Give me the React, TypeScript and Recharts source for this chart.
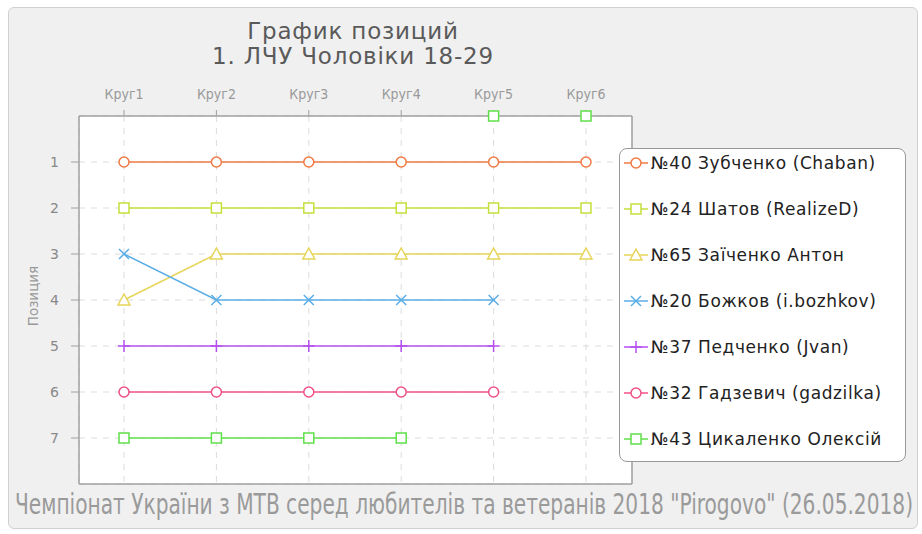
import React from 'react';
import { LineChart, Line, XAxis, YAxis, CartesianGrid } from 'recharts';

const rounds = ['Круг1', 'Круг2', 'Круг3', 'Круг4', 'Круг5', 'Круг6'];
const p40 = [1, 1, 1, 1, 1, 1];
const p24 = [2, 2, 2, 2, 2, 2];
const p65 = [4, 3, 3, 3, 3, 3];
const p20 = [3, 4, 4, 4, 4, null];
const p37 = [5, 5, 5, 5, 5, null];
const p32 = [6, 6, 6, 6, 6, null];
const p43 = [7, 7, 7, 7, null, null];
const p43top = [null, null, null, null, 0, 0];
const positionTicks = [1, 2, 3, 4, 5, 6, 7];

const series = [
  { key: 'p40', name: '№40 Зубченко (Chaban)', color: '#f07a45', shape: 'circle', values: p40 },
  { key: 'p24', name: '№24 Шатов (RealizeD)', color: '#c3e03d', shape: 'square', values: p24 },
  { key: 'p65', name: '№65 Заїченко Антон', color: '#e6d55a', shape: 'triangle', values: p65 },
  { key: 'p20', name: '№20 Божков (i.bozhkov)', color: '#5aaee6', shape: 'cross', values: p20 },
  { key: 'p37', name: '№37 Педченко (Jvan)', color: '#b44ff0', shape: 'plus', values: p37 },
  { key: 'p32', name: '№32 Гадзевич (gadzilka)', color: '#f0508a', shape: 'circle', values: p32 },
  { key: 'p43', name: '№43 Цикаленко Олексій', color: '#5fe04a', shape: 'square', values: p43 },
];

const data = rounds.map((r, i) => {
  const row: Record<string, any> = { round: r, p43top: p43top[i] };
  series.forEach((s) => (row[s.key] = s.values[i]));
  return row;
});

function Marker({ cx, cy, shape, color }: { cx: number; cy: number; shape: string; color: string }) {
  const sw = 1.5;
  if (shape === 'circle') return <circle cx={cx} cy={cy} r={5} fill="#fff" stroke={color} strokeWidth={sw} />;
  if (shape === 'square')
    return <rect x={cx - 5} y={cy - 5} width={10} height={10} fill="#fff" stroke={color} strokeWidth={sw} />;
  if (shape === 'triangle')
    return (
      <polygon
        points={`${cx},${cy - 6} ${cx + 6},${cy + 5} ${cx - 6},${cy + 5}`}
        fill="#fff"
        stroke={color}
        strokeWidth={sw}
      />
    );
  if (shape === 'cross')
    return (
      <g stroke={color} strokeWidth={sw}>
        <line x1={cx - 5} y1={cy - 5} x2={cx + 5} y2={cy + 5} />
        <line x1={cx - 5} y1={cy + 5} x2={cx + 5} y2={cy - 5} />
      </g>
    );
  return (
    <g stroke={color} strokeWidth={sw}>
      <line x1={cx - 6} y1={cy} x2={cx + 6} y2={cy} />
      <line x1={cx} y1={cy - 6} x2={cx} y2={cy + 6} />
    </g>
  );
}

const makeDot = (shape: string, color: string) => (props: any) => {
  if (props.value == null || props.cx == null || props.cy == null) return <g key={props.index} />;
  return (
    <g key={props.index}>
      <Marker cx={props.cx} cy={props.cy} shape={shape} color={color} />
    </g>
  );
};

const axisStroke = { stroke: '#a0a0a0', strokeWidth: 1.5 };
const font = 'DejaVu Sans, Verdana, sans-serif';
const condensed = 'DejaVu Sans Condensed, Liberation Sans Narrow, sans-serif';

export default function App() {
  return (
    <div
      style={{
        position: 'absolute',
        left: 8,
        top: 7,
        width: 910,
        height: 522,
        background: '#f0f0f0',
        border: '1px solid #d0d0d0',
        borderRadius: 6,
        boxSizing: 'border-box',
        fontFamily: font,
      }}
    >
      <div
        style={{
          position: 'absolute',
          left: 0,
          top: 11,
          width: 688,
          textAlign: 'center',
          color: '#5a5a5a',
          fontSize: 23,
          lineHeight: '25px',
          letterSpacing: 0.8,
        }}
      >
        График позиций
        <br />
        1. ЛЧУ Чоловіки 18-29
      </div>
      <LineChart
        width={910}
        height={522}
        data={data}
        margin={{ top: 79, right: 285, bottom: 44, left: 21 }}
        style={{ position: 'absolute', left: -1, top: -1 }}
      >
        <CartesianGrid strokeDasharray="6 6" stroke="#dcdcdc" fill="#fff" />
        <XAxis
          dataKey="round"
          orientation="top"
          height={30}
          padding={{ left: 45, right: 46 }}
          axisLine={axisStroke}
          tickLine={{ stroke: '#a0a0a0' }}
          tickSize={6}
          tickMargin={11}
          tick={{ fill: '#999', fontSize: 14, fontFamily: condensed }}
        />
        <XAxis
          xAxisId="bottom"
          dataKey="round"
          orientation="bottom"
          height={1}
          tick={false}
          tickLine={false}
          axisLine={axisStroke}
          padding={{ left: 45, right: 46 }}
        />
        <YAxis
          type="number"
          domain={[0, 8]}
          reversed
          ticks={positionTicks}
          width={50}
          axisLine={axisStroke}
          tickLine={{ stroke: '#a0a0a0' }}
          tickSize={8}
          tickMargin={12}
          tick={{ fill: '#888', fontSize: 14, fontFamily: font }}
          interval={0}
        />
        <YAxis
          yAxisId="right"
          orientation="right"
          type="number"
          domain={[0, 8]}
          reversed
          width={1}
          tick={false}
          tickLine={false}
          axisLine={axisStroke}
        />
        {series.map((s) => (
          <Line
            key={s.key}
            dataKey={s.key}
            name={s.name}
            stroke={s.color}
            strokeWidth={1.5}
            dot={makeDot(s.shape, s.color)}
            activeDot={false}
            isAnimationActive={false}
          />
        ))}
        <Line
          dataKey="p43top"
          xAxisId="bottom"
          yAxisId="right"
          stroke="none"
          dot={makeDot('square', '#5fe04a')}
          activeDot={false}
          legendType="none"
          isAnimationActive={false}
        />
      </LineChart>
      <svg width={910} height={522} style={{ position: 'absolute', left: -1, top: -1, pointerEvents: 'none' }}>
        <text
          x={25}
          y={289}
          transform="rotate(-90 25 289)"
          textAnchor="middle"
          dominantBaseline="central"
          fill="#999"
          fontSize={13.5}
          fontFamily={font}
        >
          Позиция
        </text>
        <g transform="translate(7,507) scale(1,1.25)">
          <text x={0} y={0} textLength={898} lengthAdjust="spacingAndGlyphs" fill="#9a9a9a" fontSize={22} fontFamily={condensed}>
            Чемпіонат України з МТВ серед любителів та ветеранів 2018 "Pirogovo" (26.05.2018)
          </text>
        </g>
      </svg>
      <div
        style={{
          position: 'absolute',
          left: 610,
          top: 140,
          width: 287,
          height: 314,
          background: '#fff',
          border: '1px solid #999',
          borderRadius: 8,
          boxSizing: 'border-box',
        }}
      >
        {series.map((s, i) => (
          <div
            key={s.key}
            style={{ position: 'absolute', left: 3, top: 2 + i * 46, height: 24, display: 'flex', alignItems: 'center' }}
          >
            <svg width={26} height={16}>
              <line x1={1} y1={8} x2={25} y2={8} stroke={s.color} strokeWidth={1.5} />
              <Marker cx={13} cy={8} shape={s.shape} color={s.color} />
            </svg>
            <span style={{ fontSize: 17, color: '#222', marginLeft: 2, whiteSpace: 'nowrap', letterSpacing: 0.6 }}>{s.name}</span>
          </div>
        ))}
      </div>
    </div>
  );
}
